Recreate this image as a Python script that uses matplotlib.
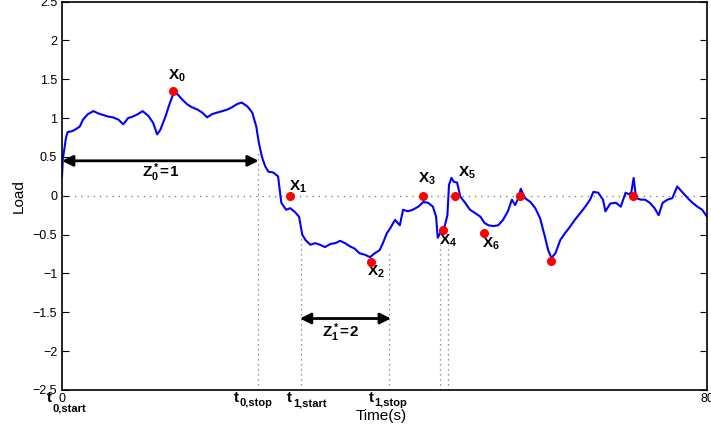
import matplotlib
matplotlib.use('Agg')
import matplotlib.pyplot as pyplot

pyplot.rcParams['font.family'] = ['Liberation Sans', 'DejaVu Sans']
pyplot.rcParams['mathtext.fontset'] = 'custom'
pyplot.rcParams['mathtext.rm'] = 'Liberation Sans'
pyplot.rcParams['mathtext.it'] = 'Liberation Sans:italic'
pyplot.rcParams['mathtext.bf'] = 'Liberation Sans:bold'

# Load curve
time = [0.0, 0.1, 0.5, 0.7, 1.2, 1.6, 2.2, 2.6, 3.2, 3.9, 4.5, 5.1, 5.7, 6.3,
        7.0, 7.6, 8.2, 8.8, 9.4, 10.0, 10.7, 11.3, 11.8, 12.2, 12.8, 13.3,
        13.8, 14.3, 14.9, 15.5, 16.1, 16.8, 17.4, 18.0, 18.6, 19.2, 19.9,
        20.5, 21.1, 21.7, 22.3, 23.0, 23.6, 24.1, 24.4, 24.8, 25.2, 25.6,
        26.2, 26.8, 27.2, 27.8, 28.3, 28.9, 29.4, 29.8, 30.2, 30.8, 31.4,
        32.0, 32.6, 33.3, 33.9, 34.5, 35.1, 35.7, 36.3, 36.9, 37.6, 38.2,
        38.8, 39.4, 39.8, 40.3, 40.7, 41.3, 41.9, 42.3, 42.9, 43.5, 44.2,
        44.8, 45.4, 46.0, 46.4, 46.6, 47.0, 47.4, 47.8, 48.0, 48.3, 48.6,
        49.0, 49.4, 50.0, 50.6, 51.2, 51.9, 52.4, 52.9, 53.5, 54.1, 54.7,
        55.3, 55.8, 56.2, 56.6, 56.9, 57.4, 58.1, 58.7, 59.3, 59.9, 60.3,
        60.7, 61.2, 61.8, 62.4, 63.0, 63.6, 64.3, 64.9, 65.5, 65.9, 66.5,
        67.1, 67.4, 68.0, 68.7, 69.3, 69.9, 70.3, 70.6, 70.9, 71.2, 71.8,
        72.3, 72.9, 73.5, 74.0, 74.5, 75.1, 75.7, 76.3, 77.0, 77.6, 78.2,
        78.8, 79.4, 80.0]
load = [0.25, 0.47, 0.75, 0.82, 0.83, 0.85, 0.89, 0.98, 1.05, 1.09, 1.06,
        1.04, 1.02, 1.01, 0.98, 0.92, 1.00, 1.02, 1.05, 1.09, 1.03, 0.94,
        0.79, 0.85, 1.01, 1.17, 1.31, 1.31, 1.24, 1.18, 1.14, 1.11, 1.07,
        1.01, 1.05, 1.07, 1.09, 1.11, 1.14, 1.18, 1.20, 1.15, 1.07, 0.89,
        0.69, 0.50, 0.38, 0.31, 0.30, 0.25, -0.09, -0.18, -0.16, -0.21,
        -0.27, -0.50, -0.57, -0.63, -0.61, -0.63, -0.66, -0.62, -0.61,
        -0.58, -0.61, -0.65, -0.68, -0.74, -0.76, -0.79, -0.74, -0.70,
        -0.61, -0.48, -0.42, -0.31, -0.38, -0.18, -0.20, -0.18, -0.14,
        -0.08, -0.09, -0.14, -0.27, -0.54, -0.46, -0.42, -0.25, 0.14, 0.23,
        0.18, 0.17, -0.01, -0.09, -0.18, -0.22, -0.27, -0.35, -0.38, -0.39,
        -0.38, -0.31, -0.20, -0.05, -0.12, -0.03, 0.09, -0.03, -0.08,
        -0.16, -0.29, -0.53, -0.70, -0.80, -0.74, -0.57, -0.48, -0.40,
        -0.31, -0.22, -0.14, -0.05, 0.05, 0.04, -0.05, -0.20, -0.10, -0.09,
        -0.14, 0.04, 0.02, 0.04, 0.23, -0.03, -0.05, -0.05, -0.09, -0.16,
        -0.25, -0.09, -0.05, -0.03, 0.12, 0.04, -0.03, -0.09, -0.14, -0.18,
        -0.27]

# Red marked points
point_t = [13.8, 28.3, 38.3, 44.8, 47.3, 48.8, 52.4, 56.8, 60.7, 70.8]
point_y = [1.35, 0.0, -0.85, 0.0, -0.44, 0.0, -0.48, 0.0, -0.84, 0.0]

# Point labels
label_text = [r'$\mathbf{X_0}$', r'$\mathbf{X_1}$', r'$\mathbf{X_2}$',
              r'$\mathbf{X_3}$', r'$\mathbf{X_4}$', r'$\mathbf{X_5}$',
              r'$\mathbf{X_6}$']
label_t = [14.2, 29.3, 38.9, 45.3, 47.9, 50.2, 53.2]
label_y = [1.55, 0.12, -0.98, 0.22, -0.58, 0.30, -0.62]

# Dotted vertical markers (time, top of line)
vline_t = [24.3, 29.6, 40.6, 46.9, 47.85]
vline_top = [0.56, -0.48, -0.70, -0.62, -0.62]

# Time labels below the axis: left edge of the "t", subscript text, subscript drop (pt)
tlabel_sub = ['0,start', '0,stop', '1,start', '1,stop']
tlabel_t = [-1.9, 21.3, 27.9, 38.0]
tlabel_drop = [-13.0, -9.5, -9.5, -9.5]

fig = pyplot.figure(figsize=(7.11, 4.34), dpi=100)
ax = fig.add_axes([0.0872, 0.1014, 0.9072, 0.8950])

# zero line and vertical markers
ax.plot([0, 80], [0, 0], color='0.45', lw=0.9, linestyle=(0, (1, 4)))
for t, top in zip(vline_t, vline_top):
    ax.plot([t, t], [-2.5, top], color='0.45', lw=0.9, linestyle=(0, (1, 3)))

ax.plot(time, load, color='#0000ff', lw=1.5)
ax.plot(point_t, point_y, 'o', color='#ff0000', markersize=5.5, zorder=5)

for txt, t, y in zip(label_text, label_t, label_y):
    ax.text(t, y, txt, fontsize=11, ha='center', va='center')

# Interval arrows
ax.annotate('', xy=(0, 0.45), xytext=(24.4, 0.45),
            arrowprops=dict(arrowstyle='<|-|>', color='black', lw=2,
                            mutation_scale=16, shrinkA=0, shrinkB=0))
ax.text(12.2, 0.30, r'$\mathbf{Z_0^*\!=\!1}$', fontsize=11, ha='center', va='center')
ax.annotate('', xy=(29.5, -1.58), xytext=(40.8, -1.58),
            arrowprops=dict(arrowstyle='<|-|>', color='black', lw=2,
                            mutation_scale=16, shrinkA=0, shrinkB=0))
ax.text(34.6, -1.76, r'$\mathbf{Z_1^*\!=\!2}$', fontsize=11, ha='center', va='center')

# t labels with a deep subscript, like the original
for sub, t, drop in zip(tlabel_sub, tlabel_t, tlabel_drop):
    ax.annotate('t', xy=(t, 0), xycoords=('data', 'axes fraction'),
                xytext=(0, -1), textcoords='offset points',
                fontsize=11, fontweight='bold', ha='left', va='top',
                annotation_clip=False)
    ax.annotate(sub, xy=(t, 0), xycoords=('data', 'axes fraction'),
                xytext=(4.3, drop), textcoords='offset points',
                fontsize=8, fontweight='bold', ha='left', va='center',
                annotation_clip=False)

ax.set_xlim(0, 80)
ax.set_ylim(-2.5, 2.5)
ax.set_xticks([0, 80])
ax.set_yticks([-2.5, -2, -1.5, -1, -0.5, 0, 0.5, 1, 1.5, 2, 2.5])
ax.set_yticklabels(['\u22122.5', '\u22122', '\u22121.5', '\u22121', '\u22120.5',
                    '0', '0.5', '1', '1.5', '2', '2.5'])
ax.tick_params(direction='in', labelsize=9, right=True, top=False, length=5)
ax.tick_params(axis='x', length=0, pad=2)
for s in ax.spines.values():
    s.set_linewidth(1.2)

ax.set_xlabel('Time(s)', fontsize=11)
ax.xaxis.set_label_coords(0.495, -0.05)
ax.set_ylabel('Load', fontsize=11, labelpad=5)

pyplot.savefig('out.png', dpi=100)
pyplot.close()
